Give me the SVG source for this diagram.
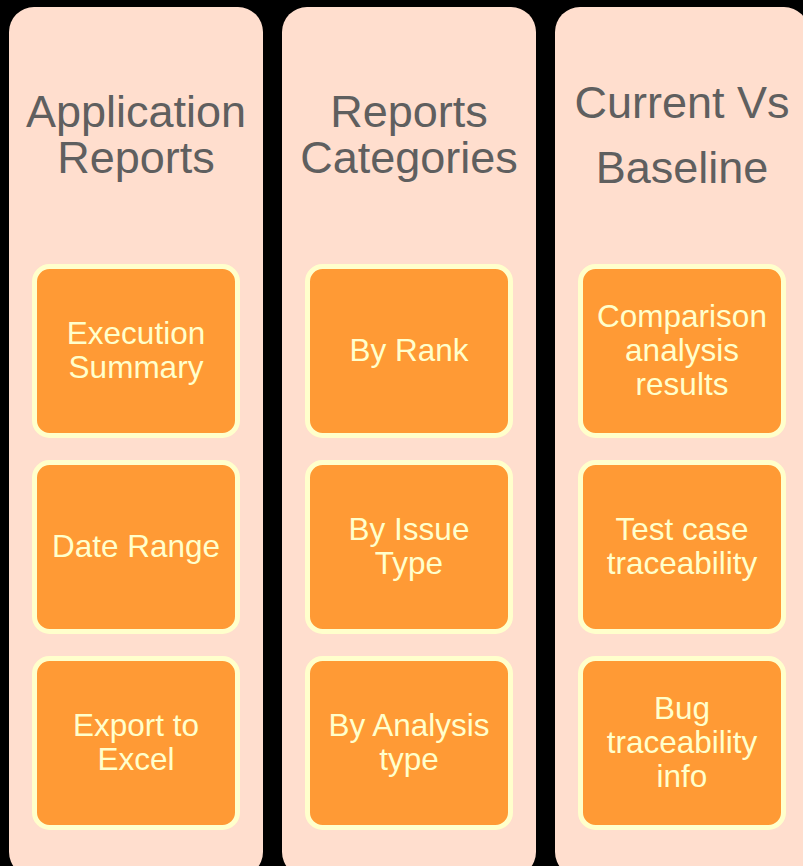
<svg xmlns="http://www.w3.org/2000/svg" width="803" height="866" viewBox="0 0 803 866">
  <style>
    .col { fill: #FFDECE; }
    .box { fill: #FF9A35; stroke: #FFFFCC; stroke-width: 5; }
    .head { font-family: "Liberation Sans", Arial, sans-serif; font-size: 45px; fill: #5F5F5F; text-anchor: middle; }
    .lbl { font-family: "Liberation Sans", Arial, sans-serif; font-size: 31.5px; fill: #FFFFCC; text-anchor: middle; }
  </style>
  <rect x="0" y="0" width="803" height="866" fill="#000000"/>

  <g id="col-application-reports">
    <rect class="col" x="9" y="7" width="254" height="870" rx="25" ry="25"/>
    <text class="head"><tspan x="136" y="127">Application</tspan><tspan x="136" y="173">Reports</tspan></text>
  </g>
  <g id="col-reports-categories">
    <rect class="col" x="282" y="7" width="254" height="870" rx="25" ry="25"/>
    <text class="head"><tspan x="409" y="127">Reports</tspan><tspan x="409" y="173">Categories</tspan></text>
  </g>
  <g id="col-current-vs-baseline">
    <rect class="col" x="555" y="7" width="254" height="870" rx="25" ry="25"/>
    <text class="head"><tspan x="682" y="118">Current Vs</tspan><tspan x="682" y="183">Baseline</tspan></text>
  </g>

  <g id="connectors"></g>

  <g id="node-execution-summary">
    <rect class="box" x="34.5" y="266.5" width="203" height="169" rx="15" ry="15"/>
    <text class="lbl"><tspan x="136" y="344">Execution</tspan><tspan x="136" y="378">Summary</tspan></text>
  </g>
  <g id="node-date-range">
    <rect class="box" x="34.5" y="462.5" width="203" height="169" rx="15" ry="15"/>
    <text class="lbl"><tspan x="136" y="557">Date Range</tspan></text>
  </g>
  <g id="node-export-to-excel">
    <rect class="box" x="34.5" y="658.5" width="203" height="169" rx="15" ry="15"/>
    <text class="lbl"><tspan x="136" y="736">Export to</tspan><tspan x="136" y="770">Excel</tspan></text>
  </g>

  <g id="node-by-rank">
    <rect class="box" x="307.5" y="266.5" width="203" height="169" rx="15" ry="15"/>
    <text class="lbl"><tspan x="409" y="361">By Rank</tspan></text>
  </g>
  <g id="node-by-issue-type">
    <rect class="box" x="307.5" y="462.5" width="203" height="169" rx="15" ry="15"/>
    <text class="lbl"><tspan x="409" y="540">By Issue</tspan><tspan x="409" y="574">Type</tspan></text>
  </g>
  <g id="node-by-analysis-type">
    <rect class="box" x="307.5" y="658.5" width="203" height="169" rx="15" ry="15"/>
    <text class="lbl"><tspan x="409" y="736">By Analysis</tspan><tspan x="409" y="770">type</tspan></text>
  </g>

  <g id="node-comparison-analysis-results">
    <rect class="box" x="580.5" y="266.5" width="203" height="169" rx="15" ry="15"/>
    <text class="lbl"><tspan x="682" y="327">Comparison</tspan><tspan x="682" y="361">analysis</tspan><tspan x="682" y="395">results</tspan></text>
  </g>
  <g id="node-test-case-traceability">
    <rect class="box" x="580.5" y="462.5" width="203" height="169" rx="15" ry="15"/>
    <text class="lbl"><tspan x="682" y="540">Test case</tspan><tspan x="682" y="574">traceability</tspan></text>
  </g>
  <g id="node-bug-traceability-info">
    <rect class="box" x="580.5" y="658.5" width="203" height="169" rx="15" ry="15"/>
    <text class="lbl"><tspan x="682" y="719">Bug</tspan><tspan x="682" y="753">traceability</tspan><tspan x="682" y="787">info</tspan></text>
  </g>
</svg>
